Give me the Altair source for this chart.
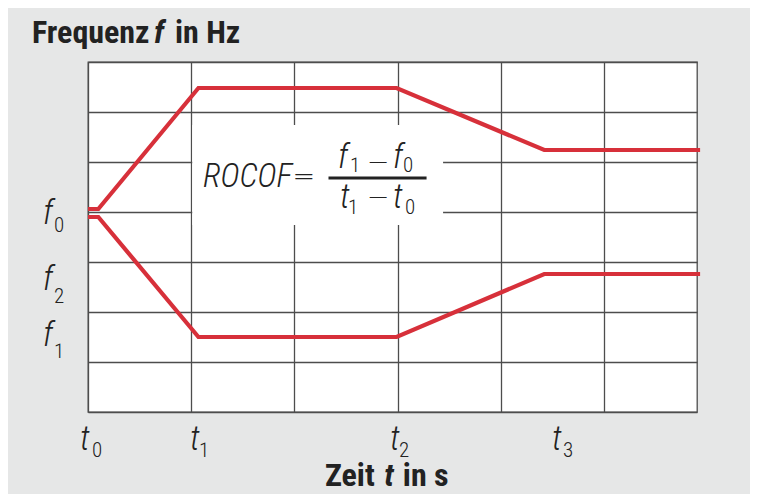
import altair as alt
import pandas as pd

# ---- data (x: time in grid units, y: frequency in grid units)
time_x = [0, 0.1, 1.07, 2.99, 4.42, 5.93]
upper_f = [4.06, 4.06, 6.48, 6.48, 5.24, 5.24]
lower_f = [3.9, 3.9, 1.5, 1.5, 2.76, 2.76]

# tick label annotations (placed in data units)
t_letter_x = [-0.078, 0.988, 2.926, 4.496]
t_sub_x = [0.039, 1.076, 3.014, 4.603]
t_subs = ["0", "1", "2", "3"]

f_letter_y = [3.76, 2.44, 1.32]
f_sub_y = [3.6, 2.18, 1.08]
f_subs = ["0", "2", "1"]

RED = "#d7303a"
GRID = "#4d4d4d"
BG = "#e6e7e7"
NARROW = "Roboto Condensed, Roboto, sans-serif"

lines_df = pd.DataFrame(
    {"t": time_x + time_x,
     "f": upper_f + lower_f,
     "series": ["oben"] * len(time_x) + ["unten"] * len(time_x)}
)

xs = alt.Scale(domain=[0, 5.9], nice=False, zero=False)
ys = alt.Scale(domain=[0, 7], nice=False, zero=False)
xax = alt.Axis(values=[0, 1, 2, 3, 4, 5], grid=True, labels=False, ticks=False,
               domain=False, title=None, gridColor=GRID, gridWidth=1.3, gridOpacity=1)
yax = alt.Axis(values=[0, 1, 2, 3, 4, 5, 6, 7], grid=True, labels=False, ticks=False,
               domain=False, title=None, gridColor=GRID, gridWidth=1.3, gridOpacity=1)

box = alt.Chart(pd.DataFrame({"x": [1.01], "x2": [3.44], "y": [3.74], "y2": [5.74]})).mark_rect(
    color="white").encode(
    x=alt.X("x:Q", scale=xs, axis=xax), x2="x2:Q",
    y=alt.Y("y:Q", scale=ys, axis=yax), y2="y2:Q")

lines = alt.Chart(lines_df).mark_line(color=RED, strokeWidth=4.2, strokeJoin="miter").encode(
    x=alt.X("t:Q", scale=xs), y=alt.Y("f:Q", scale=ys), detail="series:N")

bar = alt.Chart(pd.DataFrame({"x": [2.33], "x2": [3.28], "y": [4.68]})).mark_rule(
    color="#222222", strokeWidth=3).encode(x=alt.X("x:Q", scale=xs), x2="x2:Q",
                                           y=alt.Y("y:Q", scale=ys))


def text_layer(df, **mk):
    base = dict(align="left", baseline="alphabetic", color="#222222", font=NARROW)
    base.update(mk)
    return alt.Chart(df).mark_text(**base).encode(
        x=alt.X("x:Q", scale=xs), y=alt.Y("y:Q", scale=ys), text="txt:N")


# italic main letters (t, f) of tick labels and formula
letters = pd.DataFrame({
    "txt": ["t"] * 4 + ["f"] * 3 + ["f", "f", "t", "t"],
    "x": t_letter_x + [-0.436] * 3 + [2.422, 2.955, 2.442, 2.955],
    "y": [-0.76] * 4 + f_letter_y + [4.88, 4.88, 4.08, 4.08],
})
subs = pd.DataFrame({
    "txt": t_subs + f_subs + ["1", "0", "1", "0"],
    "x": t_sub_x + [-0.33] * 3 + [2.539, 3.052, 2.519, 3.072],
    "y": [-0.9] * 4 + f_sub_y + [4.8, 4.8, 3.96, 3.96],
})
symbols = pd.DataFrame({"txt": ["\u2212", "\u2212", "="],
                        "x": [2.81, 2.81, 2.09], "y": [4.82, 4.12, 4.55]})
rocof = pd.DataFrame({"txt": ["ROCOF"], "x": [1.114], "y": [4.5]})
title_plain = pd.DataFrame({"txt": ["Frequenz", "in Hz", "Zeit", "in s"],
                            "x": [-0.543, 0.843, 2.295, 3.05],
                            "y": [7.38, 7.38, -1.48, -1.48]})
title_ital = pd.DataFrame({"txt": ["f", "t"], "x": [0.64, 2.87], "y": [7.38, -1.48]})

layers = [
    box,
    lines,
    bar,
    text_layer(letters, fontSize=34, fontStyle="italic", fontWeight=300),
    text_layer(subs, fontSize=21, fontWeight=300),
    text_layer(symbols, fontSize=27, align="center", font="DejaVu Sans", fontWeight=200),
    text_layer(rocof, fontSize=33, fontStyle="italic", fontWeight=300),
    text_layer(title_plain, fontSize=32, fontWeight="bold"),
    text_layer(title_ital, fontSize=32, fontWeight="bold", fontStyle="italic"),
]

chart = alt.layer(*layers).properties(
    width=609, height=350,
    autosize=alt.AutoSizeParams(type="none"),
    padding={"left": 80, "top": 54, "right": 53, "bottom": 82},
    background=BG,
).configure_view(fill="white", stroke=GRID, strokeWidth=1.3)

chart.save("out.html", embed_options={"renderer": "svg", "actions": False})
